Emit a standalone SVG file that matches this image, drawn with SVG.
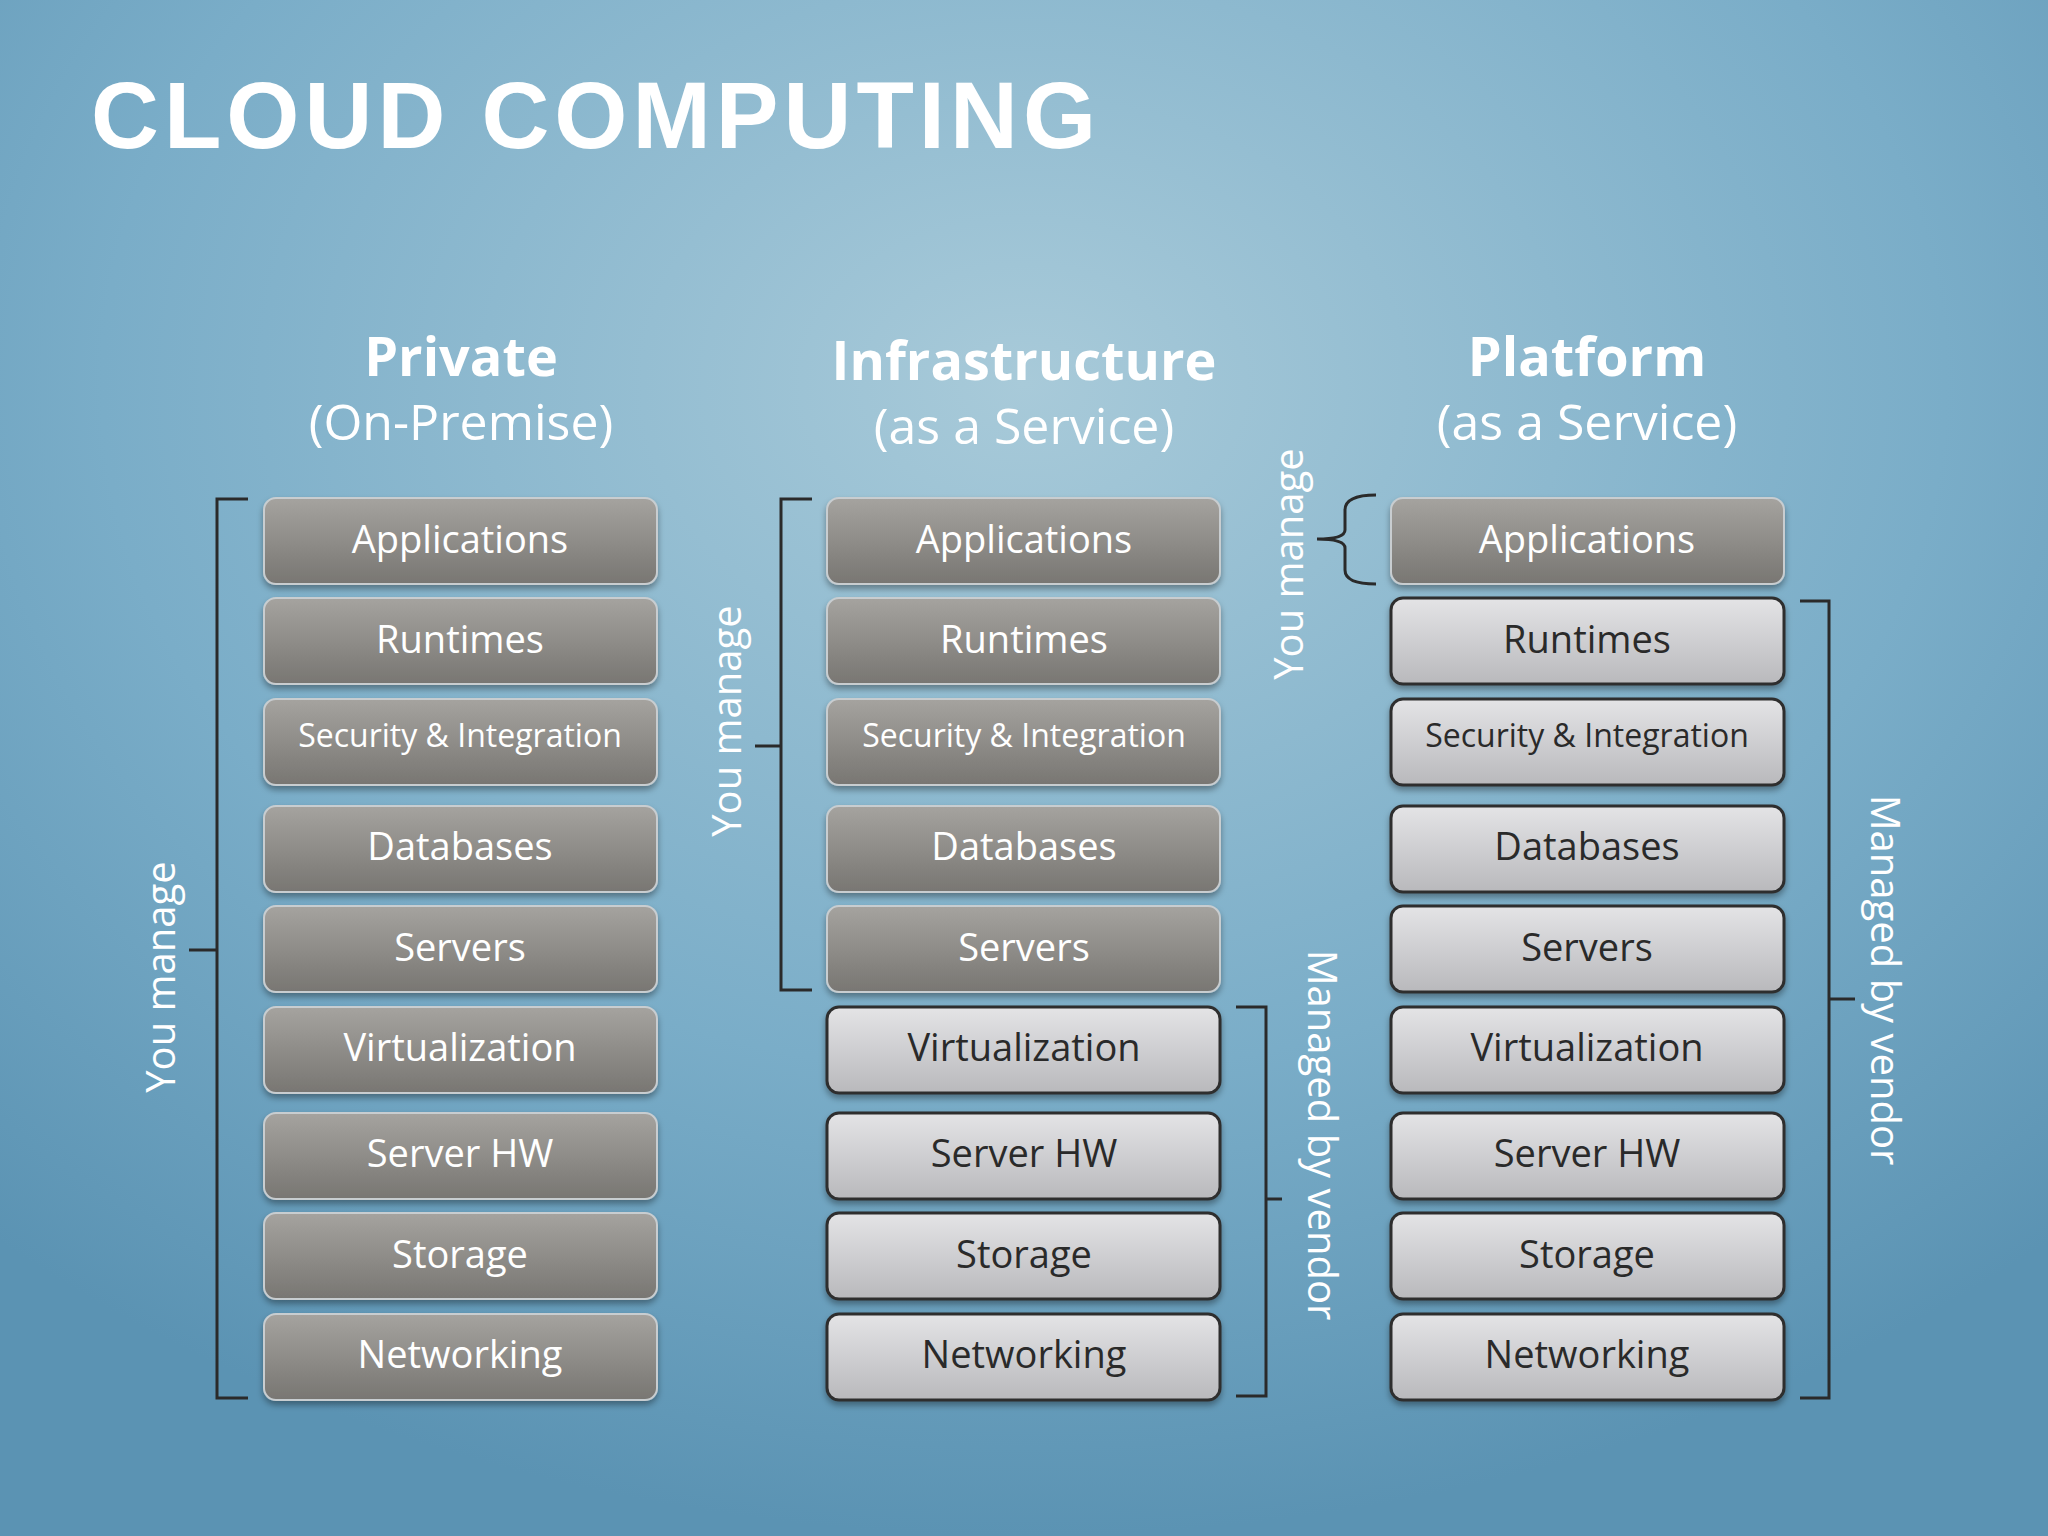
<svg xmlns="http://www.w3.org/2000/svg" width="2048" height="1536" viewBox="0 0 2048 1536">
<defs>
<radialGradient id="bg" cx="50%" cy="25%" r="75%">
<stop offset="0" stop-color="#a8cad9"/><stop offset="0.6" stop-color="#7aadc8"/><stop offset="1" stop-color="#5b93b3"/>
</radialGradient>
<linearGradient id="dk" x1="0" y1="0" x2="0" y2="1"><stop offset="0" stop-color="#a5a39f"/><stop offset="1" stop-color="#787672"/></linearGradient>
<linearGradient id="lt" x1="0" y1="0" x2="0" y2="1"><stop offset="0" stop-color="#e4e4e6"/><stop offset="1" stop-color="#b9b9bc"/></linearGradient>
<filter id="sh" x="-5%" y="-10%" width="110%" height="130%"><feDropShadow dx="0" dy="4" stdDeviation="3" flood-color="#000" flood-opacity="0.35"/></filter>
</defs>
<style>
.d rect{fill:url(#dk);stroke:#c8cdd0;stroke-width:2;filter:url(#sh)}
.l rect{fill:url(#lt);stroke:#2e2e2e;stroke-width:3;filter:url(#sh)}
.d text{fill:#fff}
.l text{fill:#2a2a2a}
text{font-family:"Open Sans","Noto Sans",sans-serif;text-anchor:middle}
.bt{font-size:38px}
.sm{font-size:32px}
.hd{font-size:54px;font-weight:bold;fill:#fff}
.sb{font-size:50px;fill:#fff}
.lab{font-size:40px;fill:#fff}
.br{fill:none;stroke:#2a2a2a;stroke-width:3}
</style>
<rect width="2048" height="1536" fill="url(#bg)"/>
<text x="91" y="148" style="font-family:'Liberation Sans',Arial,sans-serif;font-weight:900;font-size:94px;fill:#fff;text-anchor:start" textLength="1005">CLOUD COMPUTING</text>

<g id="headers">
<text class="hd" x="461" y="376">Private</text><text class="sb" x="461" y="440">(On-Premise)</text>
<text class="hd" x="1024" y="380">Infrastructure</text><text class="sb" x="1024" y="444">(as a Service)</text>
<text class="hd" x="1587" y="376">Platform</text><text class="sb" x="1587" y="440">(as a Service)</text>
</g>

<g id="col1">
<g id="c1-app" class="d"><rect x="264" y="498" width="393" height="86" rx="12"/><text class="bt" x="460" y="553">Applications</text></g>
<g id="c1-run" class="d"><rect x="264" y="598" width="393" height="86" rx="12"/><text class="bt" x="460" y="653">Runtimes</text></g>
<g id="c1-sec" class="d"><rect x="264" y="699" width="393" height="86" rx="12"/><text class="sm" x="460" y="747">Security &amp; Integration</text></g>
<g id="c1-db" class="d"><rect x="264" y="806" width="393" height="86" rx="12"/><text class="bt" x="460" y="860">Databases</text></g>
<g id="c1-srv" class="d"><rect x="264" y="906" width="393" height="86" rx="12"/><text class="bt" x="460" y="961">Servers</text></g>
<g id="c1-virt" class="d"><rect x="264" y="1007" width="393" height="86" rx="12"/><text class="bt" x="460" y="1061">Virtualization</text></g>
<g id="c1-hw" class="d"><rect x="264" y="1113" width="393" height="86" rx="12"/><text class="bt" x="460" y="1167">Server HW</text></g>
<g id="c1-sto" class="d"><rect x="264" y="1213" width="393" height="86" rx="12"/><text class="bt" x="460" y="1268">Storage</text></g>
<g id="c1-net" class="d"><rect x="264" y="1314" width="393" height="86" rx="12"/><text class="bt" x="460" y="1368">Networking</text></g>
</g>

<g id="col2">
<g id="c2-app" class="d"><rect x="827" y="498" width="393" height="86" rx="12"/><text class="bt" x="1024" y="553">Applications</text></g>
<g id="c2-run" class="d"><rect x="827" y="598" width="393" height="86" rx="12"/><text class="bt" x="1024" y="653">Runtimes</text></g>
<g id="c2-sec" class="d"><rect x="827" y="699" width="393" height="86" rx="12"/><text class="sm" x="1024" y="747">Security &amp; Integration</text></g>
<g id="c2-db" class="d"><rect x="827" y="806" width="393" height="86" rx="12"/><text class="bt" x="1024" y="860">Databases</text></g>
<g id="c2-srv" class="d"><rect x="827" y="906" width="393" height="86" rx="12"/><text class="bt" x="1024" y="961">Servers</text></g>
<g id="c2-virt" class="l"><rect x="827" y="1007" width="393" height="86" rx="12"/><text class="bt" x="1024" y="1061">Virtualization</text></g>
<g id="c2-hw" class="l"><rect x="827" y="1113" width="393" height="86" rx="12"/><text class="bt" x="1024" y="1167">Server HW</text></g>
<g id="c2-sto" class="l"><rect x="827" y="1213" width="393" height="86" rx="12"/><text class="bt" x="1024" y="1268">Storage</text></g>
<g id="c2-net" class="l"><rect x="827" y="1314" width="393" height="86" rx="12"/><text class="bt" x="1024" y="1368">Networking</text></g>
</g>

<g id="col3">
<g id="c3-app" class="d"><rect x="1391" y="498" width="393" height="86" rx="12"/><text class="bt" x="1587" y="553">Applications</text></g>
<g id="c3-run" class="l"><rect x="1391" y="598" width="393" height="86" rx="12"/><text class="bt" x="1587" y="653">Runtimes</text></g>
<g id="c3-sec" class="l"><rect x="1391" y="699" width="393" height="86" rx="12"/><text class="sm" x="1587" y="747">Security &amp; Integration</text></g>
<g id="c3-db" class="l"><rect x="1391" y="806" width="393" height="86" rx="12"/><text class="bt" x="1587" y="860">Databases</text></g>
<g id="c3-srv" class="l"><rect x="1391" y="906" width="393" height="86" rx="12"/><text class="bt" x="1587" y="961">Servers</text></g>
<g id="c3-virt" class="l"><rect x="1391" y="1007" width="393" height="86" rx="12"/><text class="bt" x="1587" y="1061">Virtualization</text></g>
<g id="c3-hw" class="l"><rect x="1391" y="1113" width="393" height="86" rx="12"/><text class="bt" x="1587" y="1167">Server HW</text></g>
<g id="c3-sto" class="l"><rect x="1391" y="1213" width="393" height="86" rx="12"/><text class="bt" x="1587" y="1268">Storage</text></g>
<g id="c3-net" class="l"><rect x="1391" y="1314" width="393" height="86" rx="12"/><text class="bt" x="1587" y="1368">Networking</text></g>
</g>

<g id="connectors">
<path class="br" d="M248 499 H217 V1398 H248 M217 950 H189"/>
<path class="br" d="M812 499 H781 V990 H812 M781 746 H755"/>
<path class="br" d="M1236 1007 H1266 V1396 H1236 M1266 1199 H1282"/>
<path class="br" d="M1376 495 Q1345 495 1345 510 V530 Q1345 539 1317 539 Q1345 539 1345 548 V570 Q1345 584 1376 584"/>
<path class="br" d="M1800 601 H1829 V1398 H1800 M1829 999 H1855"/>
</g>

<g id="labels">
<text class="lab" transform="translate(175 977) rotate(-90)">You manage</text>
<text class="lab" transform="translate(741 721) rotate(-90)">You manage</text>
<text class="lab" transform="translate(1303 564) rotate(-90)">You manage</text>
<text class="lab" transform="translate(1308 1135) rotate(90)">Managed by vendor</text>
<text class="lab" transform="translate(1871 980) rotate(90)">Managed by vendor</text>
</g>
</svg>
